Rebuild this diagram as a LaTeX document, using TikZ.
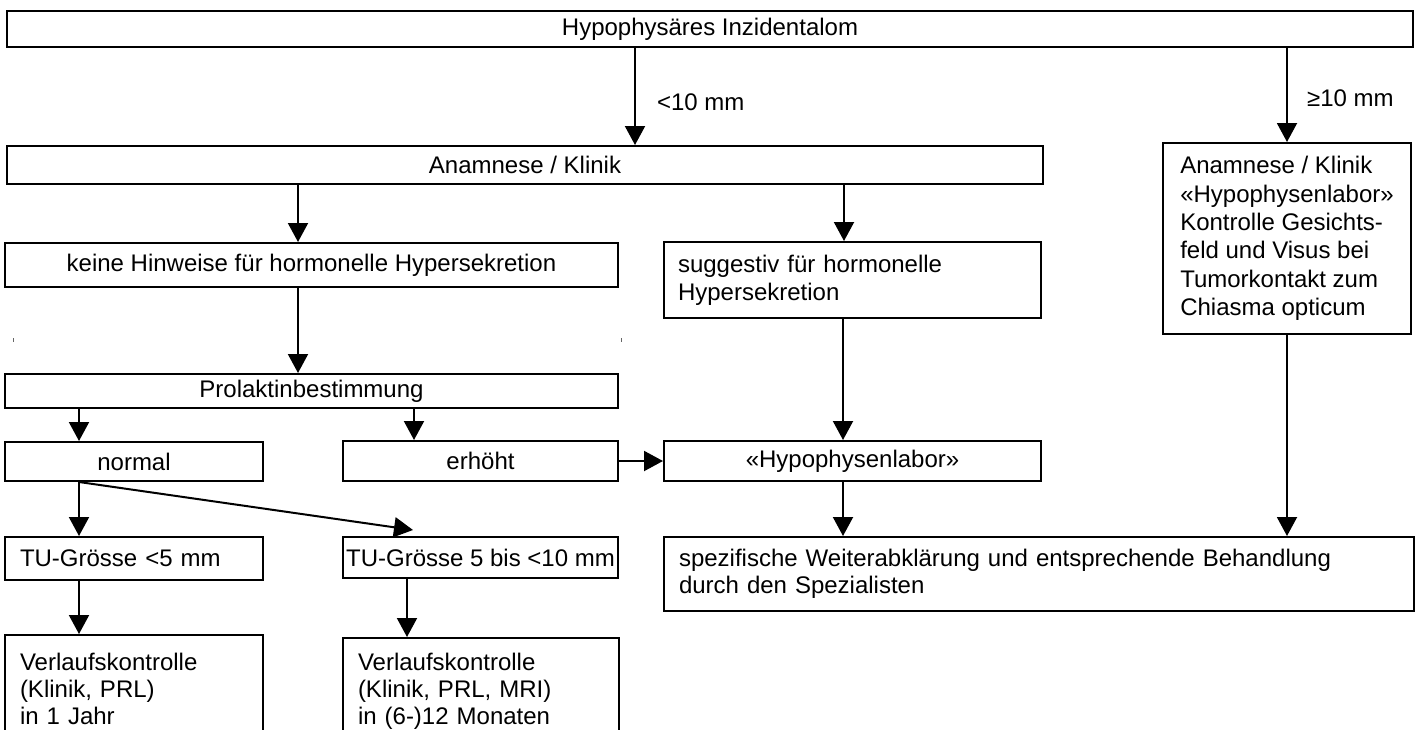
\documentclass[tikz,border=0pt]{standalone}
\usepackage{fontspec}
\setmainfont{Liberation Sans}
\usetikzlibrary{arrows.meta}

\begin{document}
\begin{tikzpicture}[
  x=0.5pt, y=-0.5pt,
  font=\fontsize{12}{14}\selectfont,
  >={Triangle[length=9.5pt,width=10pt]},
  box/.style={draw, line width=1pt, inner sep=0pt},
  leftbox/.style={box, align=left, inner xsep=#1},
  arrow/.style={->, line width=1pt},
  sizelabel/.style={anchor=west},
  tick/.style={line width=0.4pt, black!60}
]
\useasboundingbox (0,0) rectangle (1420,729);
\clip (0,0) rectangle (1420,729);

% Kopf
\node[box, minimum width=703pt, minimum height=18pt] (inz) at (710,29) {Hypophysäres Inzidentalom};

% Zweite Ebene
\node[box, minimum width=518pt, minimum height=19pt] (anam) at (525,165) {Anamnese / Klinik};
\node[box, align=left, minimum width=124pt, minimum height=95.5pt,
      font=\fontsize{12}{14.2}\selectfont] (anamR) at (1287,238.5)
  {Anamnese / Klinik\\«Hypophysenlabor»\\Kontrolle Gesichts-\\feld und Visus bei\\Tumorkontakt zum\\Chiasma opticum};

% Hinweise
\node[box, minimum width=306.5pt, minimum height=22pt] (keine) at (311.5,265) {keine Hinweise für hormonelle Hypersekretion};
\node[leftbox=7pt, text width=174.5pt, minimum height=38pt,
      font=\fontsize{12}{14.2}\selectfont] (sugg) at (852.5,280)
  {suggestiv für hormonelle\\Hypersekretion};

% Prolaktin
\node[box, minimum width=306.5pt, minimum height=17pt] (prol) at (311.5,391) {Prolaktinbestimmung};
\node[box, minimum width=129pt, minimum height=19.5pt] (normal) at (134,461.5) {normal};
\node[box, minimum width=137.5pt, minimum height=20pt] (erh) at (480.5,461) {erhöht};
\node[box, minimum width=188.5pt, minimum height=20pt] (hlab) at (852.5,461) {«Hypophysenlabor»};

% Tumorgroesse
\node[leftbox=7.5pt, text width=114pt, minimum height=21.5pt] (tu5) at (134,558.5) {TU-Grösse <5 mm};
\node[box, minimum width=137.5pt, minimum height=20.5pt] (tu10) at (480.5,557.5) {TU-Grösse 5 bis <10 mm};
\node[leftbox=7.5pt, text width=360pt, minimum height=37pt,
      font=\fontsize{12}{13.5}\selectfont] (spez) at (1039,574)
  {spezifische Weiterabklärung und entsprechende Behandlung\\durch den Spezialisten};

% Verlauf
\node[leftbox=7.5pt, text width=114pt, minimum height=53.5pt,
      font=\fontsize{12}{13.5}\selectfont] (ver1) at (134,688.5)
  {Verlaufskontrolle\\(Klinik, PRL)\\in 1 Jahr};
\node[leftbox=7.5pt, text width=123pt, minimum height=53.5pt,
      font=\fontsize{12}{13.5}\selectfont] (ver2) at (481,691.5)
  {Verlaufskontrolle\\(Klinik, PRL, MRI)\\in (6-)12 Monaten};

% Pfeil-Spuren
\coordinate (kleinX) at (635,0);
\coordinate (keineX) at (298,0);
\coordinate (suggX) at (844,0);
\coordinate (hlabX) at (843,0);
\coordinate (normX) at (79,0);
\coordinate (erhX) at (414,0);
\coordinate (tuX) at (407,0);

\draw[arrow] (inz.south -| kleinX) -- (anam.north -| kleinX);
\node[sizelabel] (lklein) at (650,102) {<10 mm};
\draw[arrow] (inz.south -| anamR.north) -- (anamR.north);
\node[sizelabel] (lgross) at (1300,98) {≥10 mm};

\draw[arrow] (anam.south -| keineX) -- (keine.north -| keineX);
\draw[arrow] (anam.south -| suggX) -- (sugg.north -| suggX);
\draw[arrow] (keine.south -| keineX) -- (prol.north -| keineX);
\draw[arrow] (sugg.south -| hlabX) -- (hlab.north -| hlabX);

\draw[arrow] (prol.south -| normX) -- (normal.north -| normX);
\draw[arrow] (prol.south -| erhX) -- (erh.north -| erhX);
\draw[arrow] (erh.east) -- (hlab.west);

\draw[arrow] (normal.south -| normX) -- (tu5.north -| normX);
\draw[arrow] (normal.south -| normX) -- ([xshift=-33.75pt,yshift=3pt]tu10.north);
\draw[arrow] (tu5.south -| normX) -- (ver1.north -| normX);
\draw[arrow] (tu10.south -| tuX) -- (ver2.north -| tuX);

\draw[arrow] (hlab.south -| hlabX) -- (spez.north -| hlabX);
\draw[arrow] (anamR.south) -- (spez.north -| anamR.south);

% Randmarken
\draw[tick] (13,338) -- (13,342);
\draw[tick] (621,338) -- (621,342);

\end{tikzpicture}
\end{document}
